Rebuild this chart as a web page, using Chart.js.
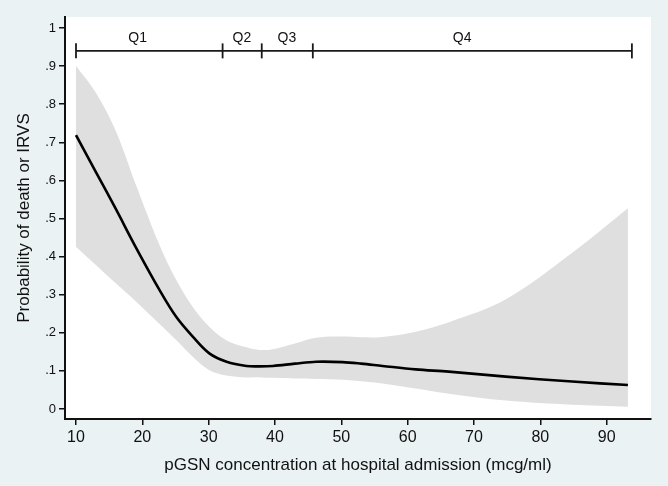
<!DOCTYPE html>
<html><head><meta charset="utf-8">
<script src="https://cdn.jsdelivr.net/npm/chart.js@4.4.1/dist/chart.umd.min.js"></script>
<style>html,body{margin:0;padding:0;background:#EAF2F3;} canvas{display:block;}</style>
</head><body>
<canvas id="c" width="668" height="486"></canvas>
<script>
// ---- data ----
const xGrid   = [10, 13, 16, 19, 22.6, 25.1, 27.6, 30.1, 32.7, 35.7, 37.7, 39.7, 43, 46.2, 50.2, 53, 56.2, 61.2, 66.2, 74.8, 84.8, 93.2];
const fitMean = [0.719, 0.622, 0.525, 0.425, 0.312, 0.242, 0.190, 0.146, 0.124, 0.113, 0.112, 0.113, 0.119, 0.124, 0.123, 0.119, 0.113, 0.104, 0.098, 0.085, 0.072, 0.063];
const ciUpper = [0.900, 0.830, 0.730, 0.590, 0.430, 0.339, 0.268, 0.216, 0.180, 0.162, 0.155, 0.157, 0.172, 0.187, 0.190, 0.188, 0.189, 0.203, 0.228, 0.288, 0.410, 0.527];
const ciLower = [0.426, 0.378, 0.330, 0.283, 0.223, 0.181, 0.137, 0.102, 0.088, 0.083, 0.083, 0.082, 0.080, 0.079, 0.077, 0.073, 0.067, 0.054, 0.040, 0.022, 0.011, 0.006];

const xTickValues = [10, 20, 30, 40, 50, 60, 70, 80, 90];
const xTickLabels = ["10", "20", "30", "40", "50", "60", "70", "80", "90"];
const yTickValues = [0, 0.1, 0.2, 0.3, 0.4, 0.5, 0.6, 0.7, 0.8, 0.9, 1];
const yTickLabels = ["0", ".1", ".2", ".3", ".4", ".5", ".6", ".7", ".8", ".9", "1"];

const quartileBounds = [10, 32.1, 38.0, 45.7, 93.8];
const quartileLabels = ["Q1", "Q2", "Q3", "Q4"];
const quartileLabelX = [19.3, 35.0, 41.8, 68.2];
const bracketY = 0.94;
const quartileLabelY = 0.974;

const xTitle = "pGSN concentration at hospital admission (mcg/ml)";
const yTitle = "Probability of death or IRVS";

// ---- chart ----
const FONT = '"Liberation Sans", Arial, sans-serif';
const pts = (xs, ys) => xs.map((x, i) => ({x: x, y: ys[i]}));

const plotBg = {
  id: 'plotBg',
  beforeDraw(chart) {
    const {ctx, chartArea: a} = chart;
    ctx.save();
    ctx.fillStyle = '#FFFFFF';
    ctx.fillRect(a.left, a.top, a.right - a.left, a.bottom - a.top);
    ctx.restore();
  }
};
const qLabels = {
  id: 'qLabels',
  afterDatasetsDraw(chart) {
    const {ctx, scales: {x, y}} = chart;
    ctx.save();
    ctx.fillStyle = '#111';
    ctx.font = '14px ' + FONT;
    ctx.textAlign = 'center';
    ctx.textBaseline = 'middle';
    quartileLabels.forEach((t, i) => {
      ctx.fillText(t, x.getPixelForValue(quartileLabelX[i]), y.getPixelForValue(quartileLabelY));
    });
    ctx.restore();
  }
};

new Chart(document.getElementById('c'), {
  type: 'line',
  data: {
    datasets: [
      { data: pts(xGrid, fitMean), borderColor: '#000', borderWidth: 2.6, pointRadius: 0,
        tension: 0.35, fill: false },
      { data: pts([quartileBounds[0], quartileBounds[quartileBounds.length - 1]], [bracketY, bracketY]),
        borderColor: '#1a1a1a', borderWidth: 1.8, pointRadius: 0, fill: false },
      { data: pts(quartileBounds, quartileBounds.map(() => bracketY)), showLine: false,
        pointStyle: 'line', rotation: 90, pointRadius: 7.5, pointBorderWidth: 1.8,
        pointBorderColor: '#1a1a1a', fill: false },
      { data: pts(xGrid, ciUpper), borderWidth: 0, borderColor: 'rgba(0,0,0,0)', pointRadius: 0,
        tension: 0.35, backgroundColor: '#DFDFDF', fill: 4 },
      { data: pts(xGrid, ciLower), borderWidth: 0, borderColor: 'rgba(0,0,0,0)', pointRadius: 0,
        tension: 0.35, fill: false }
    ]
  },
  options: {
    responsive: false,
    animation: false,
    layout: { padding: { top: 17, right: 17, left: 0, bottom: 0 } },
    plugins: { legend: { display: false }, tooltip: { enabled: false } },
    scales: {
      x: {
        type: 'linear', min: 8.342, max: 96.68,
        afterBuildTicks: s => { s.ticks = xTickValues.map(v => ({value: v})); },
        afterFit: s => { s.height = 67; },
        ticks: { callback: (v, i) => xTickLabels[i], font: { family: FONT, size: 16 }, color: '#111',
                 padding: 3, maxRotation: 0, autoSkip: false },
        grid: { display: true, drawOnChartArea: false, drawTicks: true, tickLength: 6, color: '#111', lineWidth: 1.5 },
        border: { display: true, color: '#111', width: 2 },
        title: { display: true, text: xTitle, font: { family: FONT, size: 17 }, color: '#111',
                 padding: { top: 0, bottom: 10 } }
      },
      y: {
        type: 'linear', min: -0.02625, max: 1.0289,
        afterBuildTicks: s => { s.ticks = yTickValues.map(v => ({value: v})); },
        afterFit: s => { s.width = 65; },
        ticks: { callback: (v, i) => yTickLabels[i], font: { family: FONT, size: 13 }, color: '#111',
                 padding: 3, autoSkip: false },
        grid: { display: true, drawOnChartArea: false, drawTicks: true, tickLength: 6, color: '#111', lineWidth: 1.5 },
        border: { display: true, color: '#111', width: 2 },
        title: { display: true, text: yTitle, font: { family: FONT, size: 17 }, color: '#111',
                 padding: { top: 14, bottom: 0 } }
      }
    }
  },
  plugins: [plotBg, qLabels]
});
</script>
</body></html>
